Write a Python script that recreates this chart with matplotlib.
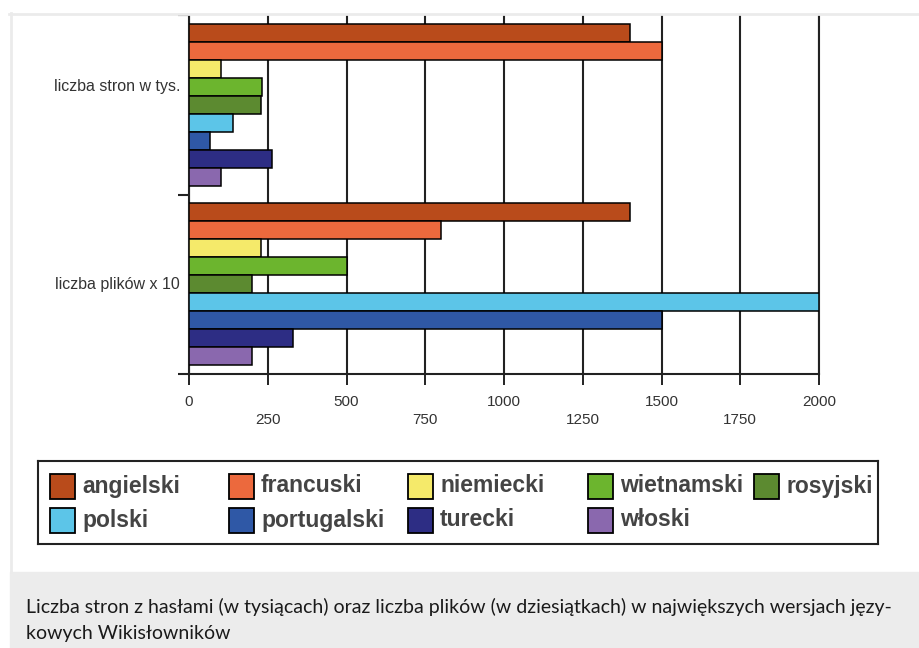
import numpy as np
import matplotlib.pyplot as plt
from matplotlib.patches import Rectangle
from matplotlib.lines import Line2D

# dane
grupy = ['liczba stron w tys.', 'liczba plików x 10']
jezyki = ['angielski', 'francuski', 'niemiecki', 'wietnamski', 'rosyjski',
          'polski', 'portugalski', 'turecki', 'włoski']
kolory = ['#b94b1b', '#ec693d', '#f5ea6a', '#6cb52e', '#5c8a30',
          '#5cc5e8', '#2f58a6', '#2d2d84', '#8a68ae']
strony = [1400, 1500, 100, 233, 227, 140, 68, 265, 100]
pliki = [1400, 800, 230, 500, 200, 2000, 1500, 330, 200]
ticki_gorne = [0, 500, 1000, 1500, 2000]
ticki_dolne = [250, 750, 1250, 1750]
podpis = ['Liczba stron z hasłami (w tysiącach) oraz liczba plików (w dziesiątkach) w największych wersjach języ-',
          'kowych Wikisłowników']

plt.rcParams['font.family'] = ['Liberation Sans', 'DejaVu Sans']

W, H = 919, 648
fig = plt.figure(figsize=(W / 100, H / 100), dpi=100)

# tło: cienka ramka i szary pasek z podpisem
fig.patches.append(Rectangle((10 / W, 0), 1, 76 / H, transform=fig.transFigure,
                             color='#ececec', zorder=0))
fig.add_artist(Line2D([9 / W, 1], [1 - 13.5 / H] * 2, color='#ebebeb', lw=2))
fig.add_artist(Line2D([10.5 / W] * 2, [76 / H, 1 - 12.5 / H], color='#ebebeb', lw=2))

ax = fig.add_axes([189 / W, 1 - 374 / H, 630 / W, 359 / H])
n = len(jezyki)
for g, wart in enumerate([strony, pliki]):
    y = g * (n + 1) + np.arange(n) + 1
    ax.barh(y, wart, height=1, color=kolory, edgecolor='black', lw=1.1, zorder=3)

ax.set_xlim(0, 2000)
ax.set_ylim(2 * (n + 1), 0)

# etykiety grup
pozycje_etykiet = [4, 15]
for etyk, yy in zip(grupy, pozycje_etykiet):
    ax.text(-9 / 630, yy, etyk, transform=ax.get_yaxis_transform(),
            ha='right', va='center', fontsize=11.5, color='#333333')

ax.set_yticks([0, n + 1, 2 * (n + 1)])
ax.set_yticklabels([])
ax.tick_params(axis='y', length=8, width=1.5, direction='out', color='#222222')

ax.set_xticks(ticki_gorne)
ax.set_xticklabels([str(t) for t in ticki_gorne])
ax.set_xticks(ticki_dolne, minor=True)
ax.set_xticklabels([str(t) for t in ticki_dolne], minor=True)
ax.tick_params(axis='x', which='both', length=8, width=1.4, direction='out',
               labelsize=11, labelcolor='#333333', color='#222222')
ax.tick_params(axis='x', which='major', pad=7)
ax.tick_params(axis='x', which='minor', pad=20)
ax.grid(axis='x', which='both', color='#222222', lw=1.5, zorder=0)

ax.spines['top'].set_visible(False)
for s in ['left', 'bottom', 'right']:
    ax.spines[s].set_linewidth(1.5)
    ax.spines[s].set_color('#222222')
ax.spines['right'].set_zorder(0)

# legenda w siatce, kolumny jak w oryginale
kol_x = [50, 229, 408, 588, 754]
lax = fig.add_axes([38 / W, 1 - 544 / H, 840 / W, 83 / H])
lax.set_xlim(38, 878)
lax.set_ylim(544, 461)
lax.set_xticks([])
lax.set_yticks([])
for s in lax.spines.values():
    s.set_linewidth(1.5)
    s.set_color('#222222')
for k, (jez, kol) in enumerate(zip(jezyki, kolory)):
    r, c = divmod(k, 5)
    x0 = kol_x[c]
    yc = 486 + r * 34
    lax.add_patch(Rectangle((x0, yc - 12.5), 25, 25, fc=kol, ec='black', lw=1.3))
    lax.text(x0 + 32, yc, jez, va='center', ha='left', fontsize=16.5,
             fontweight='bold', color='#444444')

for i, linia in enumerate(podpis):
    fig.text(26 / W, 1 - (607 + 26 * i) / H, linia, va='center', ha='left',
             fontsize=14, family=['Lato', 'DejaVu Sans'], color='#1a1a1a')

fig.savefig('out.png', dpi=100)
